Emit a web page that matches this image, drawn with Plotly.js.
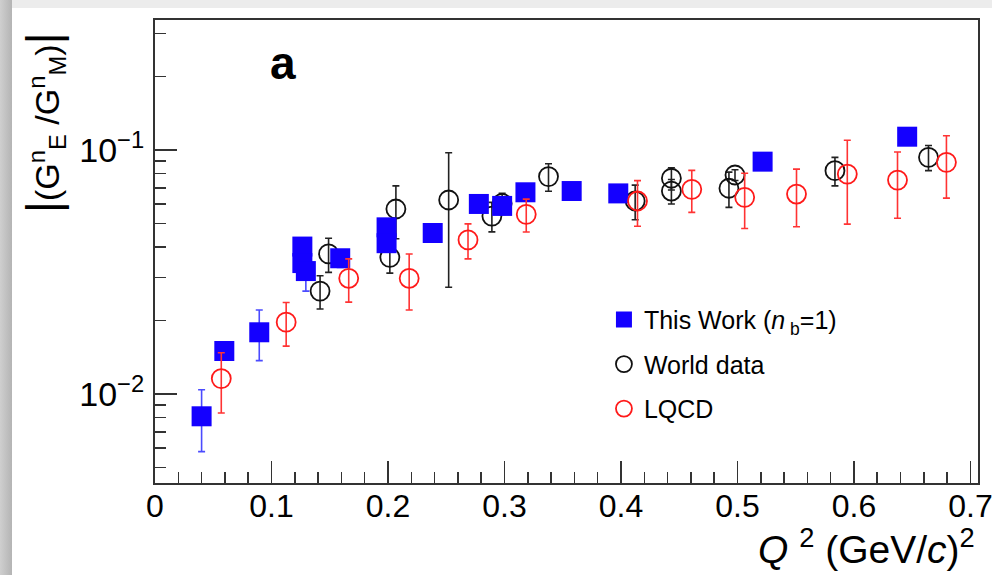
<!DOCTYPE html>
<html>
<head>
<meta charset="utf-8">
<script src="https://cdn.plot.ly/plotly-3.0.1.min.js"></script>
<style>
  html, body { margin: 0; padding: 0; width: 992px; height: 575px; overflow: hidden; background: #ececec; }
  #shadowL { position: absolute; left: 0; top: 0; width: 12px; height: 575px; background: linear-gradient(to right, #cfcfcf, #b4b4b4); }
  #sheet { position: absolute; left: 12px; top: 8px; width: 980px; height: 567px; background: #ffffff; }
  #plot { position: absolute; left: 0; top: 0; width: 992px; height: 575px; }
</style>
</head>
<body>
<div id="shadowL"></div>
<div id="sheet"></div>
<div id="plot"></div>
<script>
// ---- This Work (n_b = 1) ----
const workQ2  = [0.040, 0.0595, 0.0895, 0.1265, 0.1265, 0.1295, 0.159, 0.1988, 0.1988, 0.2384, 0.278, 0.298, 0.318, 0.3577, 0.3977, 0.5216, 0.6457];
const workR   = [0.0081, 0.0150, 0.0179, 0.0402, 0.0344, 0.0319, 0.0360, 0.0482, 0.0415, 0.0457, 0.0601, 0.0590, 0.0671, 0.0679, 0.0664, 0.0896, 0.1134];
const workErr = [0.0023, 0.0012, 0.0042, 0.0030, 0.0030, 0.0055, 0.0030, 0.0030, 0.0030, 0.0030, 0.0040, 0.0040, 0.0040, 0.0040, 0.0040, 0.0050, 0.0060];

// ---- World data ----
const worldQ2  = [0.1417, 0.149, 0.2016, 0.2068, 0.2521, 0.2892, 0.298, 0.3378, 0.4122, 0.4433, 0.4433, 0.4927, 0.4979, 0.5837, 0.664];
const worldR   = [0.0264, 0.0375, 0.0363, 0.0573, 0.0624, 0.0536, 0.0604, 0.0778, 0.0618, 0.0766, 0.0679, 0.0697, 0.0790, 0.0823, 0.0933];
const worldErr = [0.0041, 0.0060, 0.0050, 0.0140, 0.0350, 0.0074, 0.0060, 0.0100, 0.0100, 0.0080, 0.0078, 0.0115, 0.0040, 0.0110, 0.0110];

// ---- LQCD ----
const lqcdQ2  = [0.0569, 0.1126, 0.1663, 0.2182, 0.2687, 0.3187, 0.4142, 0.4608, 0.5062, 0.5507, 0.5943, 0.6374, 0.6794];
const lqcdR   = [0.01156, 0.0197, 0.0298, 0.0298, 0.0428, 0.0545, 0.0618, 0.0690, 0.0640, 0.0660, 0.0797, 0.0753, 0.0890];
const lqcdErr = [0.0032, 0.0040, 0.0060, 0.0077, 0.0070, 0.0084, 0.0131, 0.0135, 0.0163, 0.0175, 0.0300, 0.0228, 0.0255];

// ---- axis ticks ----
const yMajorVals = [0.01, 0.1];
const yMajorText = ['10<sup>\u22122</sup>', '10<sup>\u22121</sup>'];
const yMinorVals = [0.005, 0.006, 0.007, 0.008, 0.009, 0.02, 0.03, 0.04, 0.05, 0.06, 0.07, 0.08, 0.09, 0.2, 0.3];

const FONT = 'Liberation Sans, Arial, Helvetica, sans-serif';
const AX = '#333333';

const traces = [
  {
    name: 'World data', x: worldQ2, y: worldR, type: 'scatter', mode: 'markers',
    legendgroup: 'g2', legendrank: 2,
    marker: { symbol: 'circle-open', size: 19, color: '#111111', line: { width: 1.8, color: '#111111' } },
    error_y: { type: 'data', array: worldErr, visible: true, color: '#222222', thickness: 1.6, width: 3.5 }
  },
  {
    name: 'This Work (<i>n</i><sub> b</sub>=1)', x: workQ2, y: workR, type: 'scatter', mode: 'markers',
    legendgroup: 'g1', legendrank: 1,
    marker: { symbol: 'square', size: 20, color: '#1400ff', line: { width: 0 } },
    error_y: { type: 'data', array: workErr, visible: true, color: '#4b4bff', thickness: 1.6, width: 3.5 }
  },
  {
    name: 'LQCD', x: lqcdQ2, y: lqcdR, type: 'scatter', mode: 'markers',
    legendgroup: 'g3', legendrank: 3,
    marker: { symbol: 'circle-open', size: 19, color: '#ff1a1a', line: { width: 1.8, color: '#ff1a1a' } },
    error_y: { type: 'data', array: lqcdErr, visible: true, color: '#ff3333', thickness: 1.6, width: 3.5 }
  }
];

const layout = {
  width: 992, height: 575,
  margin: { l: 155, r: 14, t: 20, b: 92, pad: 0 },
  paper_bgcolor: 'rgba(0,0,0,0)',
  plot_bgcolor: '#ffffff',
  font: { family: FONT, color: '#000000' },
  showlegend: true,
  legend: {
    x: 0.5455, y: 0.402, xanchor: 'left', yanchor: 'top',
    traceorder: 'grouped', tracegroupgap: 9,
    font: { family: FONT, size: 25, color: '#000' },
    bgcolor: 'rgba(0,0,0,0)', borderwidth: 0
  },
  xaxis: {
    range: [0, 0.7065], autorange: false,
    tick0: 0, dtick: 0.1,
    ticks: 'inside', ticklen: 22, tickwidth: 1.5, tickcolor: AX,
    ticklabelstandoff: -6, ticklabeloverflow: 'allow',
    minor: { dtick: 0.02, ticks: 'inside', ticklen: 11, tickwidth: 1.5, tickcolor: AX },
    showline: true, linecolor: AX, linewidth: 2, mirror: true,
    showgrid: false, zeroline: false,
    tickfont: { family: FONT, size: 32, color: '#000' }
  },
  yaxis: {
    type: 'log', range: [-2.365, -0.467], autorange: false,
    tickvals: yMajorVals, ticktext: yMajorText,
    ticks: 'inside', ticklen: 22, tickwidth: 1.5, tickcolor: AX,
    ticklabelstandoff: 2,
    minor: { tickvals: yMinorVals, ticks: 'inside', ticklen: 11, tickwidth: 1.5, tickcolor: AX },
    showline: true, linecolor: AX, linewidth: 2, mirror: true,
    showgrid: false, zeroline: false,
    tickfont: { family: FONT, size: 34, color: '#000' }
  },
  annotations: [
    {
      text: '<b>a</b>', xref: 'paper', yref: 'paper', x: 0.1555, y: 0.907,
      xanchor: 'center', yanchor: 'middle', showarrow: false,
      font: { family: FONT, size: 46, color: '#000' }
    },
    {
      text: '<i>Q</i>\u00a0<sup>2</sup>\u00a0(GeV/<i>c</i>)<sup>2</sup>', xref: 'paper', yref: 'paper',
      x: 0.9988, y: -0.137, xanchor: 'right', yanchor: 'middle', showarrow: false,
      font: { family: FONT, size: 39, color: '#000' }
    },
    {
      text: '<span style="font-size:46px">|</span>(G<sup>n</sup><sub>E</sub>\u00a0/G<sup>n</sup><sub>M</sub>)<span style="font-size:46px">|</span>',
      xref: 'paper', yref: 'paper',
      x: -0.1349, y: 0.7797, xanchor: 'center', yanchor: 'middle', textangle: -90, showarrow: false,
      font: { family: FONT, size: 34, color: '#000' }
    }
  ]
};

Plotly.newPlot('plot', traces, layout, { displayModeBar: false, staticPlot: true });
</script>
</body>
</html>
